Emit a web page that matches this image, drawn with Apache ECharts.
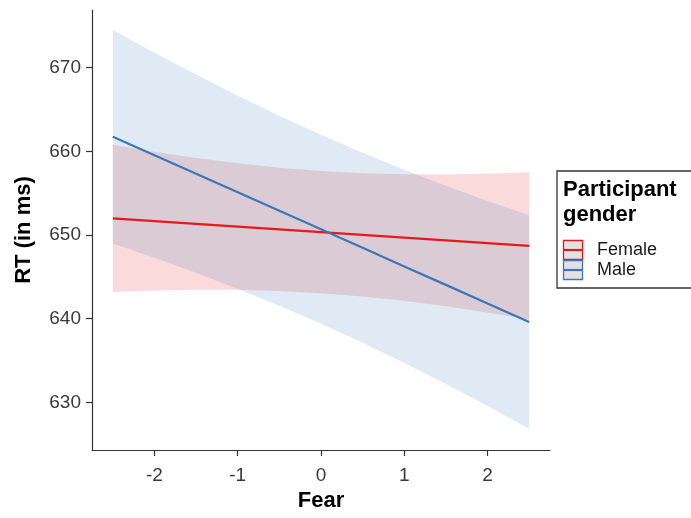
<!DOCTYPE html>
<html><head><meta charset="utf-8">
<script src="https://cdn.jsdelivr.net/npm/echarts@6/dist/echarts.min.js"></script>
<style>html,body{margin:0;padding:0;background:#fff}#c{width:691px;height:518px}</style>
</head><body><div id="c"></div>
<script>
const fear = [-2.5, -2, -1.5, -1, -0.5, 0, 0.5, 1, 1.5, 2, 2.5];
const groups = ['Female', 'Male'];
const femaleFit   = [652.00, 651.67, 651.34, 651.01, 650.68, 650.35, 650.02, 649.69, 649.36, 649.03, 648.70];
const femaleLower = [643.20, 643.38, 643.47, 643.45, 643.31, 643.05, 642.65, 642.13, 641.49, 640.74, 639.90];
const femaleUpper = [660.80, 659.96, 659.21, 658.57, 658.05, 657.65, 657.39, 657.25, 657.23, 657.32, 657.50];
const maleFit     = [661.76, 659.54, 657.33, 655.11, 652.90, 650.68, 648.47, 646.25, 644.04, 641.82, 639.61];
const maleLower   = [649.00, 647.29, 645.48, 643.56, 641.54, 639.38, 637.11, 634.70, 632.19, 629.57, 626.85];
const maleUpper   = [674.52, 671.79, 669.18, 666.66, 664.26, 661.98, 659.83, 657.80, 655.89, 654.07, 652.37];
const xTicks = [-2, -1, 0, 1, 2];
const yTicks = [630, 640, 650, 660, 670];
const legendTitle = 'Participant\ngender';

const lineColors = { Female: '#E41A1C', Male: '#3B78B5' };
const bandColors = { Female: 'rgba(228,26,28,0.16)', Male: 'rgba(55,126,184,0.16)' };

function pairs(xs, ys) { return xs.map((x, i) => [x, ys[i]]); }

function bandSeries(name, lower, upper) {
  const rows = fear.map((x, i) => [x, lower[i], upper[i]]);
  return {
    name: name + ' CI', type: 'custom', silent: true, z: 2,
    encode: { x: 0, y: [1, 2] },
    data: rows,
    renderItem: function (params, api) {
      if (params.dataIndex !== 0) return null;
      const top = rows.map(r => api.coord([r[0], r[2]]));
      const bot = rows.slice().reverse().map(r => api.coord([r[0], r[1]]));
      return {
        type: 'polygon',
        shape: { points: top.concat(bot) },
        style: { fill: bandColors[name], stroke: null }
      };
    }
  };
}
function lineSeries(name, fit) {
  return { name: name, type: 'line', data: pairs(fear, fit), symbol: 'none',
    lineStyle: { color: lineColors[name], width: 2.2 }, z: 3 };
}

const font = 'Liberation Sans, Arial, Helvetica, sans-serif';
const chart = echarts.init(document.getElementById('c'), null, { renderer: 'canvas' });

const keyTop = [240, 260];
const graphics = [
  { type: 'rect', shape: { x: 557, y: 171, width: 200, height: 117 },
    style: { fill: '#fff', stroke: '#333', lineWidth: 1.3 }, z: 10 },
  { type: 'text', x: 563, y: 177, z: 11,
    style: { text: legendTitle, font: 'bold 22px ' + font, fill: '#000', lineHeight: 25, verticalAlign: 'top' } }
];
groups.forEach((g, i) => {
  graphics.push({ type: 'rect', z: 11, shape: { x: 563.5, y: keyTop[i] + 0.5, width: 19, height: 19 },
    style: { fill: '#e2e2e4', stroke: lineColors[g], lineWidth: 1.3 } });
  graphics.push({ type: 'line', z: 12, shape: { x1: 564, y1: keyTop[i] + 10, x2: 582, y2: keyTop[i] + 10 },
    style: { stroke: lineColors[g], lineWidth: 2.2 } });
  graphics.push({ type: 'text', z: 12, x: 597, y: keyTop[i] + 10,
    style: { text: g, font: '18px ' + font, fill: '#1a1a1a', verticalAlign: 'middle' } });
});

chart.setOption({
  animation: false,
  backgroundColor: '#fff',
  grid: { left: 92, right: 141, top: 10, bottom: 68, containLabel: false },
  xAxis: {
    type: 'value', min: -2.75, max: 2.75,
    name: 'Fear', nameLocation: 'middle', nameGap: 40,
    nameTextStyle: { fontFamily: font, fontWeight: 'bold', fontSize: 22, color: '#000' },
    axisLine: { show: true, onZero: false, lineStyle: { color: '#333', width: 1.2 } },
    axisTick: { show: true, length: 6, customValues: xTicks, lineStyle: { color: '#333', width: 1.2 } },
    axisLabel: { customValues: xTicks, margin: 16, fontFamily: font, fontSize: 19, color: '#3a3a3a' },
    splitLine: { show: false }
  },
  yAxis: {
    type: 'value', min: 624.3, max: 676.9,
    name: 'RT (in ms)', nameLocation: 'middle', nameGap: 57,
    nameTextStyle: { fontFamily: font, fontWeight: 'bold', fontSize: 22, color: '#000' },
    axisLine: { show: true, onZero: false, lineStyle: { color: '#333', width: 1.2 } },
    axisTick: { show: true, length: 6, customValues: yTicks, lineStyle: { color: '#333', width: 1.2 } },
    axisLabel: { customValues: yTicks, margin: 11, fontFamily: font, fontSize: 19, color: '#3a3a3a' },
    splitLine: { show: false }
  },
  series: [
    bandSeries('Female', femaleLower, femaleUpper),
    bandSeries('Male', maleLower, maleUpper),
    lineSeries('Female', femaleFit),
    lineSeries('Male', maleFit)
  ],
  graphic: graphics
});
</script></body></html>
